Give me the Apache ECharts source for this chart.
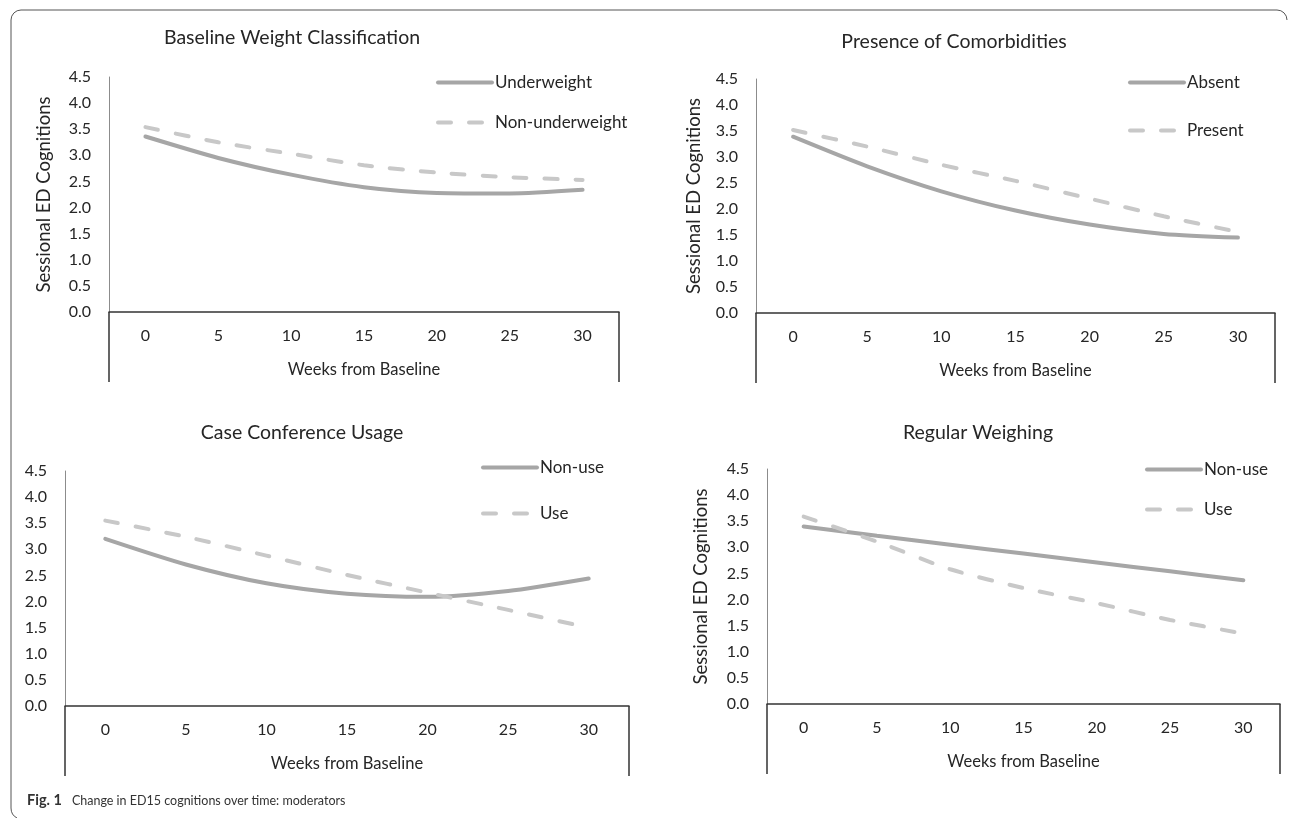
<!DOCTYPE html>
<html>
<head>
<meta charset="utf-8">
<script src="https://cdn.jsdelivr.net/npm/echarts@6/dist/echarts.min.js"></script>
<style>
html,body{margin:0;padding:0;background:#fff;}
#chart{width:1295px;height:818px;}
</style>
</head>
<body>
<div id="chart"></div>
<script>
// ---- data ----
const weeks = ['0', '5', '10', '15', '20', '25', '30'];
const yTicks = ['0.0', '0.5', '1.0', '1.5', '2.0', '2.5', '3.0', '3.5', '4.0', '4.5'];

const titles = ['Baseline Weight Classification', 'Presence of Comorbidities', 'Case Conference Usage', 'Regular Weighing'];
const yAxisName = 'Sessional ED Cognitions';
const xAxisName = 'Weeks from Baseline';
const caption = 'Change in ED15 cognitions over time: moderators';

const p1Names = ['Underweight', 'Non-underweight'];
const p1Underweight = [3.36, 2.95, 2.63, 2.39, 2.28, 2.27, 2.34];
const p1NonUnderweight = [3.54, 3.25, 3.03, 2.81, 2.67, 2.58, 2.53];

const p2Names = ['Absent', 'Present'];
const p2Absent = [3.39, 2.82, 2.34, 1.97, 1.70, 1.52, 1.45];
const p2Present = [3.52, 3.20, 2.85, 2.54, 2.20, 1.86, 1.56];

const p3Names = ['Non-use', 'Use'];
const p3NonUse = [3.20, 2.71, 2.35, 2.15, 2.09, 2.20, 2.44];
const p3Use = [3.55, 3.24, 2.88, 2.51, 2.17, 1.84, 1.50];

const p4Names = ['Non-use', 'Use'];
const p4NonUse = [3.40, 3.22, 3.05, 2.88, 2.71, 2.54, 2.37];
const p4Use = [3.59, 3.11, 2.58, 2.22, 1.93, 1.61, 1.35];

// ---- layout / style ----
const FONT = 'Lato';
const TXT = '#262626';
const SOLID = '#a6a6a6';
const DASH = '#c8c8c8';

const grids = [
  {left: 109, top: 77, width: 510, height: 235},
  {left: 756, top: 79, width: 519, height: 234},
  {left: 65, top: 471, width: 564, height: 235},
  {left: 767, top: 469, width: 513, height: 235}
];
const yNameGap = [55, 52, null, 56];
const titlePos = [[287, 23], [949, 27], [297, 418], [973, 418]];
const legendPos = [
  {left: 436, top: 74, itemGap: 23},
  {left: 1128, top: 74, itemGap: 31},
  {left: 481, top: 459, itemGap: 29},
  {left: 1145, top: 461, itemGap: 23}
];
const panelNames = [p1Names, p2Names, p3Names, p4Names];
const panelData = [
  [p1Underweight, p1NonUnderweight],
  [p2Absent, p2Present],
  [p3NonUse, p3Use],
  [p4NonUse, p4Use]
];

const frameStyle = {fill: 'none', stroke: '#555', lineWidth: 1};

const option = {
  animation: false,
  backgroundColor: '#fff',
  title: titles.map((t, i) => ({
    text: t,
    left: titlePos[i][0],
    top: titlePos[i][1],
    textAlign: 'center',
    padding: 5,
    textStyle: {fontFamily: FONT, fontSize: 19.5, fontWeight: 'normal', color: TXT}
  })).concat([{
    text: '{b|Fig. 1}{g|}' + caption,
    left: 22,
    top: 788,
    textStyle: {
      fontFamily: FONT, fontSize: 12.5, fontWeight: 'normal', color: '#333',
      rich: {
        b: {fontFamily: FONT, fontSize: 14.5, fontWeight: 'bold', color: '#333'},
        g: {width: 10}
      }
    }
  }]),
  legend: legendPos.map((lp, i) => ({
    orient: 'vertical',
    left: lp.left,
    top: lp.top,
    padding: 0,
    itemGap: lp.itemGap,
    itemWidth: 54,
    itemHeight: 14,
    data: panelNames[i],
    selectedMode: false,
    itemStyle: {color: 'rgba(0,0,0,0)', borderColor: 'rgba(0,0,0,0)', borderWidth: 0, opacity: 0},
    lineStyle: {width: 4},
    textStyle: {fontFamily: FONT, fontSize: 17, color: TXT, padding: [0, 0, 0, -2]}
  })),
  grid: grids.map(g => Object.assign({containLabel: false}, g)),
  xAxis: grids.map((g, i) => ({
    type: 'category',
    gridIndex: i,
    data: weeks,
    boundaryGap: true,
    name: xAxisName,
    nameLocation: 'middle',
    nameGap: 49,
    nameTextStyle: {fontFamily: FONT, fontSize: 16.5, color: TXT},
    axisLine: {show: true, lineStyle: {color: '#333', width: 1.5}},
    axisTick: {show: true, length: 70, interval: (idx) => idx === 0, lineStyle: {color: '#333', width: 1.5}},
    axisLabel: {fontFamily: FONT, fontSize: 16, color: TXT, margin: 16, interval: 0},
    splitLine: {show: false}
  })),
  yAxis: grids.map((g, i) => ({
    type: 'value',
    gridIndex: i,
    min: 0,
    max: 4.5,
    interval: 0.5,
    name: yNameGap[i] ? yAxisName : '',
    nameLocation: 'middle',
    nameGap: yNameGap[i] || 0,
    nameRotate: 90,
    nameTextStyle: {fontFamily: FONT, fontSize: 18.5, color: TXT},
    axisLine: {show: true, lineStyle: {color: '#8c8c8c', width: 1}},
    axisTick: {show: false},
    axisLabel: {fontFamily: FONT, fontSize: 16, color: TXT, margin: 18,
      formatter: (v) => yTicks[Math.round(v / 0.5)]},
    splitLine: {show: false}
  })),
  series: [],
  graphic: [
    {type: 'polyline', shape: {points: [[11, 808], [11, 20]]}, style: frameStyle},
    {type: 'arc', shape: {cx: 21, cy: 20, r: 10, startAngle: Math.PI, endAngle: Math.PI * 1.5, clockwise: true}, style: frameStyle},
    {type: 'polyline', shape: {points: [[21, 10], [1277, 10]]}, style: frameStyle},
    {type: 'arc', shape: {cx: 1277, cy: 20, r: 10, startAngle: -Math.PI / 2, endAngle: 0, clockwise: true}, style: frameStyle},
    {type: 'bezierCurve', shape: {x1: 11, y1: 808, cpx1: 11, cpy1: 815, x2: 17, y2: 818}, style: frameStyle}
  ]
};

panelData.forEach((pair, i) => {
  option.series.push({
    type: 'line', name: panelNames[i][0], xAxisIndex: i, yAxisIndex: i,
    data: pair[0], smooth: 0.25, symbol: 'none',
    lineStyle: {color: SOLID, width: 4, cap: 'round'},
    itemStyle: {color: SOLID}
  });
  option.series.push({
    type: 'line', name: panelNames[i][1], xAxisIndex: i, yAxisIndex: i,
    data: pair[1], smooth: 0.25, symbol: 'none',
    lineStyle: {color: DASH, width: 4, type: [13, 18], cap: 'round'},
    itemStyle: {color: DASH}
  });
});

const chart = echarts.init(document.getElementById('chart'), null, {renderer: 'canvas'});
chart.setOption(option);
</script>
</body>
</html>
